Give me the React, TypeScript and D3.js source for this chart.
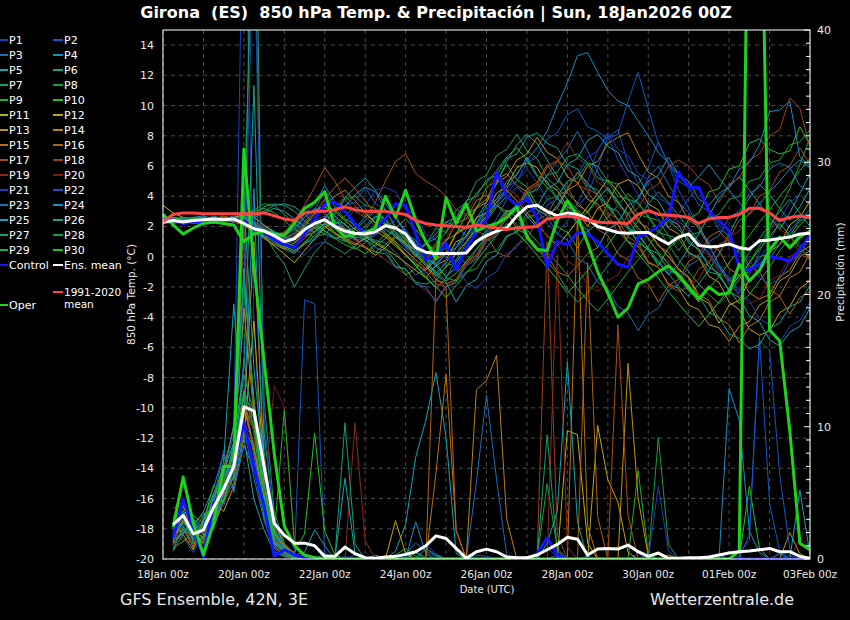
import React from "react";
import * as d3 from "d3";

// time axis: 6-hourly steps from 18Jan2026 00z to 03Feb2026 00z
const t0 = new Date(Date.UTC(2026, 0, 18, 0));
const tEnd = new Date(Date.UTC(2026, 1, 3, 0));
const STEP = 6 * 3600 * 1000;

const legendRows = [
  ["P1", "P2"], ["P3", "P4"], ["P5", "P6"], ["P7", "P8"], ["P9", "P10"],
  ["P11", "P12"], ["P13", "P14"], ["P15", "P16"], ["P17", "P18"], ["P19", "P20"],
  ["P21", "P22"], ["P23", "P24"], ["P25", "P26"], ["P27", "P28"], ["P29", "P30"],
];

// member colours (cycle of 20)
const palette = [
  "#1f3fbf", "#1456c4", "#1a6fb8", "#168fc4", "#14a3b3", "#13a38c", "#12a068", "#14a046", "#1db326", "#22c41c",
  "#b5b30c", "#bfa60b", "#bc940b", "#b9840c", "#b8720d", "#b3620f", "#a84f12", "#9e4115", "#8e2a1b", "#7e1a18",
];

// 850 hPa temperature (°C), 65 values 00z 18Jan .. 00z 03Feb
const climTemp = [2.3,2.8,2.9,2.9,2.85,2.85,2.85,2.85,2.85,2.85,2.9,2.7,2.5, 2.4,2.9,3.0,3.0,3.1,3.3,3.1,3.0,3.0,3.0,2.9,2.8,2.4, 2.2,2.1,2.05,2.0,1.95,2.1,2.0,1.9,1.8,1.9,1.95,2.0,2.5, 2.6,2.7,2.6,2.4,2.3,2.25,2.25,2.2,2.8,3.05,2.8,2.75,2.7, 2.6,2.2,2.5,2.6,2.6,2.8,3.2,3.2,2.9,2.4,2.6,2.7,2.6];
const meanTemp = [2.3,2.4,2.3,2.4,2.45,2.5,2.45,2.5,2.2,1.85,1.7,1.4,1.0, 1.2,1.8,2.2,2.45,2.0,1.7,1.55,1.5,1.65,2.05,1.9,1.5,0.6, 0.3,0.22,0.22,0.22,0.25,1.0,1.4,1.7,1.9,2.7,3.3,3.4,3.0, 2.7,2.9,2.8,2.5,2.0,1.8,1.6,1.55,1.6,1.6,1.2,0.84,1.3, 1.5,0.75,0.65,0.7,0.84,0.6,0.5,1.05,1.1,1.2,1.3,1.5,1.55];
const controlTemp = [2.6,2.4,2.2,2.3,2.3,2.3,2.4,2.5,2.4,1.9,1.6,1.1,0.8, 0.6,1.5,2.5,3.5,3.6,3.0,2.2,1.5,1.9,2.5,3.5,3.4,1.5, -0.2,0.2,0.9,-0.9,0.6,1.6,2.5,5.6,4.0,3.4,3.8,2.6,-0.7, 1.0,0.8,1.6,1.5,1.0,0.2,-0.5,-0.7,1.3,1.6,2.0,2.6,5.6, 4.6,4.6,3.0,2.4,1.7,-0.7,-0.9,-0.5,0.0,-0.1,-0.3,0.5,1.4];
const operTemp = [2.8,2.1,1.5,1.9,2.2,2.3,2.2,2.1,1.0,1.5,1.7,1.5,1.4, 2.2,3.2,3.6,4.3,2.0,1.3,1.5,1.6,1.9,4.0,2.6,4.4,2.4, 1.0,-0.15,3.9,2.2,3.5,1.7,2.0,2.2,2.6,3.3,1.3,0.5,0.4, 2.4,3.7,2.7,0.9,-1.0,-2.4,-4.0,-3.4,-1.8,-1.5,-1.0,-0.6,-1.2, -2.0,-2.8,-2.0,-2.5,-2.4,-0.5,-1.6,-0.9,0.45,1.3,0.6,1.3,1.7];

// ensemble members P1..P30
const memberTemp: number[][] = [
  [2.5,2.3,2.2,2.4,2.3,2.5,2.6,2.4,2.0,1.7,1.5,1.2,0.8, 1.0,1.9,2.4,2.7,2.2,1.6,1.2,1.0,1.4,2.0,2.4,1.8,0.9, 0.2,-0.4,0.3,0.8,1.2,2.1,2.9,3.6,4.2,5.0,5.8,4.9,3.8, 3.2,2.6,3.5,4.9,7.1,8.0,6.4,5.2,4.1,3.3,2.5,1.9,2.8, 3.9,4.6,3.2,2.1,1.3,0.4,-0.8,-0.2,0.9,2.4,3.6,4.1,3.4],
  [2.3,2.5,2.4,2.3,2.6,2.4,2.3,2.6,2.4,2.1,1.9,1.6,1.2, 1.3,1.7,2.0,2.2,1.8,1.4,1.1,1.2,1.5,1.8,1.3,0.6,-0.4, -1.1,-0.6,0.2,-0.3,0.4,1.1,1.6,2.5,3.8,4.6,4.0,3.1,2.2, 1.5,2.4,3.3,4.1,5.8,7.9,8.4,6.2,4.8,5.9,7.6,6.1,4.4, 3.2,2.0,0.9,-0.6,-1.8,-2.4,-1.2,0.3,1.8,2.6,1.9,0.8,0.3],
  [2.4,2.6,2.5,2.3,2.2,2.4,2.5,2.3,2.1,1.6,1.3,1.1,0.9, 1.4,2.3,3.1,3.4,2.6,1.9,1.5,1.3,1.1,0.9,0.3,-0.5,-1.2, -0.8,0.1,0.6,0.2,-0.5,0.4,1.5,2.2,2.9,3.4,3.9,4.6,5.4, 6.3,7.1,8.3,7.0,5.6,4.4,3.5,2.8,3.9,5.2,6.0,4.8,3.6, 2.9,1.8,0.7,-0.5,-1.5,-2.2,-1.6,-0.9,-0.1,0.8,1.7,2.5,3.1],
  [2.6,2.4,2.6,2.5,2.4,2.7,2.5,2.4,2.3,2.0,1.8,1.5,1.4, 1.8,2.6,3.2,2.9,2.1,1.7,1.9,2.6,3.1,2.4,1.6,0.8,0.4, 0.9,1.5,2.3,2.0,1.4,2.2,3.0,3.8,4.5,5.5,6.4,7.2,8.3, 10.0,11.5,13.3,13.5,12.2,11.0,10.3,10.0,9.0,8.0,6.9,6.2,5.4, 4.6,5.3,6.1,5.2,4.4,3.6,2.8,3.5,4.3,5.0,5.8,6.4,5.9],
  [2.2,2.4,2.5,2.6,2.4,2.3,2.5,2.7,2.6,2.3,2.0,1.7,1.3, 1.1,1.6,2.3,2.5,2.1,1.5,1.2,1.8,2.6,3.1,2.0,1.2,0.5, 0.0,-0.6,-1.3,-0.7,0.5,1.6,2.4,3.3,4.0,3.5,2.7,1.9,2.6, 3.4,4.5,5.6,4.9,4.1,3.3,2.5,1.8,1.1,0.4,-0.4,-1.2,-0.5, 0.6,1.5,2.7,3.9,4.6,5.3,4.4,3.5,2.6,1.8,2.9,4.2,5.5],
  [2.7,2.5,2.3,2.4,2.5,2.6,2.4,2.3,2.5,2.8,3.3,3.5,3.4, 3.0,2.4,1.9,1.5,1.2,1.4,1.8,2.4,3.0,2.5,1.7,0.9,0.2, -0.5,-1.1,-0.4,0.6,1.4,2.5,3.6,4.8,6.3,7.4,8.1,7.5,6.4, 5.3,4.2,3.6,2.9,3.8,4.6,3.7,2.5,1.4,0.6,-0.3,-1.1,-2.0, -2.6,-1.8,-0.9,0.2,1.5,2.8,3.9,4.8,4.1,3.2,2.4,3.3,4.5],
  [2.4,2.3,2.2,2.3,2.4,2.2,2.3,2.4,2.6,2.2,1.6,0.4,-0.5, -2.0,-0.8,0.3,1.0,0.6,0.2,0.7,1.3,2.0,1.5,0.8,0.2,-0.6, -1.3,-2.1,-1.4,-0.2,0.9,1.8,2.6,3.4,2.8,2.1,1.4,0.6,-0.3, -1.1,-2.2,-3.0,-2.4,-1.5,-0.6,0.4,1.3,2.4,3.5,4.3,3.6,2.7, 1.9,1.0,0.2,-0.7,-1.6,-0.8,0.3,1.2,2.1,3.0,3.8,2.9,2.0],
  [2.5,2.6,2.4,2.2,2.3,2.5,2.4,2.5,2.7,3.1,3.5,3.4,2.8, 2.2,1.6,1.3,1.5,2.1,2.7,3.3,2.9,2.3,1.8,1.4,0.9,0.4, 0.8,1.9,1.6,3.1,3.6,5.0,5.4,6.7,7.1,8.1,7.0,6.5,5.2, 4.6,3.8,3.1,2.5,1.9,2.6,3.4,4.2,3.5,2.7,1.8,0.8,-0.2, -1.0,-1.8,-2.5,-3.1,-2.4,-1.5,-0.4,0.7,1.9,3.2,4.5,6.1,7.9],
  [2.3,2.2,2.4,2.5,2.3,2.4,2.6,2.5,2.3,1.8,1.4,0.9,0.6, 0.9,1.5,2.0,1.7,1.2,0.8,0.5,0.9,1.6,2.2,1.9,1.1,0.3, -0.4,-1.0,-1.6,-1.1,-0.3,0.5,1.3,2.2,3.1,2.6,1.8,1.0,0.3, -0.4,-1.2,-2.1,-2.9,-3.6,-2.8,-1.9,-1.0,-0.2,0.7,1.6,2.4,1.8, 1.1,0.4,-0.4,-1.3,-2.2,-3.1,-2.5,-1.6,-0.7,0.4,1.2,2.1,2.8],
  [2.6,2.4,2.3,2.5,2.6,2.4,2.5,2.3,2.2,2.0,1.7,1.3,1.0, 1.2,2.0,2.8,3.3,2.7,2.1,1.6,1.1,0.7,1.2,1.9,2.5,1.8, 1.0,0.3,1.1,1.5,2.8,3.2,4.6,5.0,6.1,5.1,4.6,3.4,3.0, 2.0,1.6,0.6,1.7,2.2,3.5,2.4,2.0,0.9,0.5,-0.6,0.6,1.1, 2.5,2.9,4.3,4.5,5.8,6.0,7.5,7.8,7.1,6.8,7.0,8.6,7.4],
  [3.4,2.9,2.6,2.4,2.3,2.4,2.5,2.6,2.3,1.9,1.3,0.7,0.2, -0.4,0.4,1.2,1.9,2.4,1.8,1.2,0.6,0.1,0.6,1.3,0.8,0.1, -0.6,-1.3,-0.7,0.2,1.0,1.9,2.7,3.6,4.4,3.7,2.9,2.1,1.4, 0.7,1.5,2.4,3.3,4.2,5.1,4.3,3.4,2.5,1.6,0.8,0.0,-0.8, -1.4,-2.7,-3.1,-4.4,-3.2,-2.9,-1.5,-1.0,0.3,0.8,2.1,2.6,3.7],
  [2.2,2.3,2.5,2.4,2.2,2.3,2.4,2.6,2.8,2.6,2.1,1.6,1.2, 1.5,2.2,2.9,3.5,3.0,2.4,1.8,1.3,0.9,0.5,0.1,-0.4,-0.9, -1.4,-0.6,-0.2,1.0,1.3,2.6,2.9,4.2,4.7,5.9,6.2,5.9,4.8, 4.4,3.3,3.0,2.0,3.2,3.6,4.8,5.1,4.7,3.5,3.1,1.9,1.5, 0.3,-0.1,-1.3,-1.7,-3.0,-3.5,-4.8,-5.2,-4.9,-3.7,-3.3,-2.1,-1.6],
  [2.5,2.4,2.2,2.3,2.5,2.6,2.4,2.5,2.4,2.2,1.8,1.4,0.9, 1.1,1.8,2.4,2.0,1.5,1.1,0.8,1.2,1.7,1.3,0.7,0.1,-0.5, -0.9,-0.2,0.2,1.5,1.9,3.2,3.6,4.9,5.3,6.4,6.8,7.9,6.9, 6.5,5.3,4.9,3.8,3.5,2.4,2.1,1.0,0.7,-0.4,-0.7,-1.8,-2.1, -3.2,-3.5,-4.5,-4.7,-5.6,-4.6,-4.3,-3.2,-2.8,-1.6,-1.2,0.0,0.4],
  [2.3,2.5,2.6,2.4,2.3,2.2,2.4,2.3,2.1,1.6,1.2,0.8,0.5, 0.9,1.6,2.5,3.4,4.0,4.4,3.7,2.9,2.2,1.6,1.0,0.4,-0.2, -0.8,-0.1,0.3,1.6,2.0,3.3,3.8,5.1,5.5,4.7,4.3,3.1,2.8, 3.2,4.4,4.8,6.0,6.3,7.5,7.9,8.2,6.8,5.6,5.2,4.0,3.6, 2.4,2.0,0.8,0.4,-0.8,-1.2,-2.4,-2.8,-2.5,-1.3,-0.9,0.3,0.7],
  [2.4,2.3,2.4,2.6,2.5,2.3,2.4,2.6,2.3,1.9,1.5,1.0,0.6, 0.3,0.8,1.4,2.0,1.6,1.2,0.9,0.6,0.3,0.8,1.4,0.9,0.4, -0.2,0.7,1.0,2.2,2.5,3.7,4.1,3.4,3.0,1.8,1.5,0.4,0.1, -1.0,-1.3,-0.6,0.2,0.6,1.8,2.2,3.4,2.3,1.9,0.7,0.3,-0.9, -1.3,-2.5,-2.9,-4.1,-4.5,-5.7,-4.6,-4.2,-3.0,-2.6,-1.4,-1.0,0.2],
  [2.6,2.5,2.3,2.2,2.4,2.5,2.7,2.5,2.3,2.0,1.6,1.2,0.9, 1.3,2.1,2.9,3.8,4.6,5.2,4.5,3.7,2.9,2.2,1.5,0.8,0.1, -0.6,-1.5,-1.8,-1.5,-0.3,0.1,1.3,1.7,2.9,3.3,4.5,4.9,6.1, 5.0,4.6,3.4,3.0,1.8,1.4,0.2,-0.2,-1.4,-1.8,-3.0,-1.9,-1.5, -0.3,0.1,1.3,1.7,1.0,0.6,-0.6,-1.0,-2.2,-2.6,-3.8,-2.7,-2.3],
  [2.5,2.3,2.2,2.3,2.5,2.4,2.3,2.5,2.4,2.1,1.8,1.5,1.6, 2.4,3.4,4.6,5.9,5.0,3.8,3.0,2.6,3.6,5.0,6.3,6.8,5.5, 5.0,4.6,4.0,3.1,2.8,1.7,1.4,0.3,0.0,0.8,1.2,2.4,2.8, 4.0,4.4,5.6,4.5,4.1,2.9,2.5,1.3,0.9,-0.3,-0.7,-1.9,-2.3, -2.0,-0.8,-0.4,0.8,1.2,2.4,2.8,4.0,4.4,5.6,6.0,7.2,6.1],
  [2.3,2.4,2.6,2.5,2.3,2.4,2.5,2.4,2.2,1.8,1.5,1.2,0.9, 0.6,1.2,1.9,2.6,3.3,4.0,3.4,2.7,2.0,1.4,0.8,0.2,-0.4, -1.0,-1.8,-2.0,-1.7,-0.5,-0.1,1.1,1.5,2.7,3.1,4.3,4.7,5.9, 6.3,6.0,4.8,4.4,3.2,2.8,1.6,2.8,3.2,4.4,4.8,6.0,6.4, 6.0,5.2,4.8,3.6,4.8,5.2,6.4,6.8,8.0,8.4,10.5,9.8,7.2],
  [2.6,2.4,2.3,2.5,2.6,2.5,2.3,2.4,2.5,2.3,1.9,1.4,1.0, 0.7,1.3,2.0,2.6,2.1,1.6,1.1,0.7,0.3,-0.2,-0.7,-1.2,-1.7, -2.2,-2.9,-1.9,-1.6,-0.4,0.0,1.2,1.6,2.8,3.2,4.4,4.8,6.0, 6.4,7.6,6.5,6.1,4.9,4.5,3.3,2.9,1.7,1.3,0.1,-0.3,-1.5, -1.9,-1.5,-0.3,0.1,1.3,1.7,2.9,3.3,3.0,1.8,1.4,0.2,-0.2],
  [2.4,2.5,2.4,2.3,2.4,2.6,2.5,2.3,2.2,1.9,1.6,1.3,1.1, 1.5,2.2,2.8,2.3,1.8,1.3,0.9,1.4,2.0,2.6,2.0,1.3,0.6, -0.1,0.8,1.2,2.4,2.8,4.0,4.4,5.6,4.5,4.1,2.9,2.5,1.3, 0.9,-0.3,-0.7,-1.9,-2.3,-1.6,-1.2,0.0,0.4,1.6,2.0,3.2,2.1, 1.7,0.5,0.1,-1.1,-1.5,-2.7,-3.1,-2.8,-1.6,-1.2,0.0,0.4,1.6],
  [2.5,2.6,2.4,2.3,2.2,2.4,2.6,2.5,2.3,2.0,1.7,1.3,0.9, 0.5,0.1,0.8,1.0,2.0,2.2,3.2,3.4,4.4,4.6,4.3,3.1,2.7, 1.5,1.1,-0.1,-0.5,-1.7,-2.1,-1.4,-1.0,0.2,0.6,1.8,2.2,3.4, 3.8,5.0,5.4,6.6,7.0,8.2,7.1,6.7,5.5,5.1,3.9,3.5,2.3, 1.9,0.7,0.3,-0.9,-1.3,-2.5,-2.9,-4.1,-4.5,-5.7,-4.6,-4.2,-3.0],
  [2.3,2.4,2.5,2.6,2.5,2.3,2.4,2.5,2.4,2.1,1.7,1.2,0.7, 0.3,1.0,1.2,2.2,2.4,3.4,3.6,4.6,3.5,3.1,1.9,1.5,0.3, -0.1,-1.3,-0.2,0.2,1.4,1.8,3.0,3.4,4.6,5.0,6.2,6.6,7.8, 8.2,9.4,9.8,8.6,8.3,7.8,8.1,10.3,12.2,9.8,7.5,6.2,5.0, 4.6,3.4,3.0,1.8,1.4,0.2,-0.2,-1.4,-1.8,-1.5,-0.3,0.1,1.3],
  [2.4,2.2,2.3,2.5,2.4,2.5,2.3,2.4,2.5,2.2,1.8,1.5,1.2, 1.6,2.6,3.1,4.4,3.3,3.0,1.9,1.6,0.6,0.4,-0.6,-0.8,-1.8, -2.0,-3.0,-2.0,-1.7,-0.6,-0.2,1.0,1.4,2.6,3.0,4.2,3.1,2.7, 1.5,1.1,-0.1,-0.5,-1.7,-2.1,-3.3,-3.7,-4.9,-3.8,-3.4,-2.2,-1.8, -0.6,-0.2,1.0,1.4,2.6,3.0,4.2,4.6,5.8,6.2,5.9,4.7,4.3],
  [2.5,2.6,2.5,2.4,2.3,2.5,2.6,2.4,2.3,2.0,1.8,1.6,1.5, 1.9,2.8,3.5,4.7,3.6,3.3,4.1,4.6,4.3,3.1,2.7,1.5,1.1, -0.1,-0.5,0.2,0.6,1.8,2.2,3.4,3.8,5.0,5.4,6.6,5.4,5.0, 3.8,3.4,2.2,1.8,0.6,1.8,2.2,3.4,3.8,5.0,5.4,6.6,5.4, 5.0,3.8,3.4,4.2,4.6,5.8,6.2,7.4,9.6,9.7,10.3,6.6,6.0],
  [2.3,2.5,2.4,2.6,2.7,2.5,2.4,2.3,2.4,2.6,2.9,3.2,3.0, 2.5,2.0,1.6,2.2,3.0,3.9,4.6,5.2,4.4,3.5,2.6,1.7,0.8, -0.1,-1.2,-1.7,-3.0,-1.9,-1.5,-0.3,0.1,1.3,1.7,2.9,3.3,4.5, 4.9,6.1,6.5,7.7,8.1,7.3,6.9,5.7,5.3,4.1,3.7,2.5,2.1, 0.9,0.5,-0.7,-1.1,-2.3,-2.7,-3.9,-4.3,-5.5,-5.9,-5.0,-4.6,-3.4],
  [2.6,2.5,2.3,2.4,2.3,2.4,2.5,2.6,2.6,2.7,3.0,3.4,3.5, 3.3,2.8,2.2,1.7,1.3,1.0,1.4,2.0,2.7,2.1,1.4,0.7,0.0, 0.9,1.2,2.3,2.6,3.7,4.0,5.1,5.4,6.5,6.8,7.9,8.2,7.5, 7.2,6.1,5.8,4.7,4.4,3.3,3.0,1.9,1.6,0.5,0.2,-0.9,-1.2, -2.3,-2.6,-3.7,-4.0,-5.1,-5.4,-6.1,-5.8,-4.7,-4.4,-3.3,-3.0,-1.9],
  [2.4,2.3,2.5,2.4,2.2,2.3,2.4,2.5,2.4,2.1,1.6,1.0,0.5, 0.2,0.9,1.1,2.1,2.3,2.2,1.3,1.2,0.3,0.2,-0.7,-0.8,-1.7, -1.8,-1.6,-0.6,-0.4,0.6,0.8,1.8,2.0,3.0,3.2,4.2,4.4,5.4, 5.6,6.6,6.8,6.2,6.0,5.0,4.8,3.8,3.6,2.6,2.4,1.4,1.2, 0.2,0.0,-1.0,-1.2,-2.2,-1.2,-1.0,0.0,0.2,1.2,1.4,2.4,2.6],
  [2.5,2.4,2.6,2.5,2.4,2.6,2.5,2.4,2.3,1.9,1.5,1.3,1.0, 0.7,1.4,1.6,2.6,2.8,3.8,4.0,3.4,3.2,2.2,2.0,1.0,0.8, -0.2,-0.4,-1.4,-1.6,-1.0,-0.8,0.2,0.4,1.4,1.6,2.6,2.8,3.8, 4.0,5.0,5.2,6.2,5.2,5.0,4.0,3.8,2.8,2.6,1.6,1.4,0.4, 1.4,1.6,2.6,2.8,3.8,4.0,5.0,5.2,6.2,6.4,7.4,7.6,8.4],
  [2.2,2.4,2.3,2.5,2.6,2.4,2.3,2.4,2.7,3.0,3.2,2.9,2.4, 1.8,1.5,1.9,2.6,3.2,2.5,2.1,1.4,1.0,0.6,-0.3,-1.2,-0.8, 0.1,0.9,1.6,2.5,3.3,4.2,4.9,5.7,6.6,7.2,6.4,5.3,4.6, 3.9,3.1,2.2,3.0,3.9,4.5,3.6,2.8,1.9,1.2,0.3,-0.5,-1.4, -2.2,-3.0,-2.1,-1.3,-0.4,0.5,1.4,2.3,3.1,4.0,4.8,5.7,6.5],
  [2.4,2.6,2.4,2.2,2.3,2.4,2.6,2.5,2.4,2.0,1.6,1.1,0.7, 0.4,0.9,1.7,2.2,1.6,1.1,0.6,0.2,0.8,1.5,0.9,0.1,-0.6, -1.4,-2.0,-2.7,-1.9,-1.1,-0.3,0.6,1.4,2.2,1.6,0.9,0.1,-0.7, -1.5,-2.4,-1.7,-0.9,0.0,0.8,1.7,1.0,0.2,-0.6,-1.4,-2.3,-3.1, -3.9,-4.6,-3.8,-3.0,-2.1,-1.3,-0.4,0.5,1.3,2.2,1.4,0.6,-0.2],
];

// 6-hourly precipitation (mm), 64 values 06z 18Jan .. 00z 03Feb
const meanPrecip = [2.6,3.3,1.9,2.2,3.9,5.3,7.0,11.5,11.2,7.0,2.7,1.8,1.2,1.2,1.0,0.2, 0.2,0.9,0.4,0.1,0.05,0.15,0.2,0.35,0.55,1.0,1.75,1.55,0.8,0.05,0.55,0.75, 0.55,0.15,0.1,0.1,0.3,0.7,1.1,1.65,1.5,0.3,0.75,0.8,0.75,1.05,0.55,0.2, 0.45,0.05,0.05,0.1,0.1,0.15,0.3,0.45,0.55,0.6,0.7,0.8,0.55,0.55,0.2,0.05];
const controlPrecip = [1.6,4.5,2.2,0.2,4.2,5.2,7.2,10.3,7.0,4.0,0.2,0.7,0.3,0.1,0,0, 0,0,0,0,0,0,0,0,0,0,0,0,0,0,0,0, 0,0,0,0,0.4,1.6,0.3,0,0,0,0,0,0,0,0,0, 0,0,0,0,0,0,0,0,0,0,0,0,0,0,0,0];
const operPrecip = [2.4,6.2,2.7,0.3,2.7,7.0,7.0,31,22,15,8,2.5,1.0,0.3,0.1,0, 0,0,0,0,0,0,0,0,0,0,0,0,0,0,0,0, 0,0,0,0,0,0,0,0,0,0,0,0,0,0,0,0, 0,0,0,0,0,0,0,0,0.6,60,60,17.3,16.5,9.7,1.2,0.7];

const memberPrecip: number[][] = [
  [1.2,3.5,0.8,2.1,4.6,6.2,9.5,55,18,3.2,0.6,0.2,0.4,0.1,0,0, 0,0.2,0,0,0,0.1,0.3,0,0.5,1.1,0.4,0,0,0.2,0,0, 0,0,0,0,0.3,0.8,0.2,0,0,0,0.1,0,0,0,0.4,0, 0,0,0,0,0,0,0.2,0.6,0.1,0,0,0,0,0.3,0,0],
  [2.4,1.6,0.5,1.8,3.2,4.5,7.8,12.5,8.2,4.0,1.1,0.5,0.1,19.6,19.3,0.1, 0,0,0.3,0,0,0,0,0.2,0.6,0.1,0,0,0,0,0.3,0.2, 0,0,0,0,0,0,0.3,0,0,0,0,0,0,0,0,0, 0,0,0,0,0,0,0,0,0.5,1.4,16.8,4.2,0.6,0,0,0],
  [3.8,4.4,1.2,1.5,2.6,5.1,6.3,15.2,9.4,5.2,2.1,0.8,0.3,0,0,0, 0,0,0,0,0,0,0,0.4,1.2,0.6,0.2,0,0,0,5.8,12.4, 6.0,0.3,0,0,0,0,0,0,0,0.2,0,0,0,0,0,0, 0,0,0,0,0,0,0,0,0,0,0,0,0,0,0,0],
  [1.5,2.8,2.4,3.6,5.4,7.9,5.2,8.6,6.7,3.3,1.4,0.6,0,0,0.2,0, 0,0,0,0,0.3,0,0,0,2.8,0.4,0,0,0,0,0,0, 0,0,0,0,0,0,0,0,0,0,0,0,0,0,0,0, 0,0,0,0,0,0,0.3,0,0,0,0,0,0.4,0,0,0],
  [0.6,1.9,3.3,2.7,4.1,7.4,19.3,9.2,4.5,2.2,0.5,0.2,0,0,0,0, 0,0,0,0,0,0,0.6,2.6,7.7,10.5,14.1,9.2,0.4,0,0,0, 0,0,0,0,0,0,0,0,0,0,0,0,0,0,0,0, 0,0,0,0,0,0,0,0,0,0,0,0,0,0,0,0],
  [2.2,3.1,1.4,2.6,3.8,6.6,8.8,14.5,35.8,9.5,3.1,1.0,0.2,0,0,0.4, 0.1,0,0,0,0,0.2,0,0,0,0.8,0.3,0,0,0,0,0, 0,0,0,0,0,0,0,0,0,0,0,0,0,0,0,0, 0,0,0,0,0,0,0,0,0,0,0,0,0,0,0,0],
  [1.6,2.5,0.9,1.7,4.8,5.9,8.4,18.6,62,8.1,2.4,0.9,0.3,0,0,0, 0,0,0,0,0,0,0.3,0.8,0.2,0,0,0,0,0,0,0, 0,0,0,0,0,0,0,0,0,0,0,0,0,0,0,0, 0,0,0,0,0,0,0,0,0,0,0,0,0,0,0,0],
  [3.1,3.9,2.6,1.4,3.3,4.7,7.1,26,50,12,3.6,1.2,0.4,0.1,0,0, 0,0,0,0,0,0,0,0,0,0,0,0,0,0,0,0, 0,0,0,0,0,5.7,0.8,0,0,0,0,0,0,0,0,0, 0,0,0,0,0,0,0,0,0,0,0,0,0,0,0,0],
  [0.9,1.3,2.1,2.8,5.6,4.2,6.4,9.8,7.2,4.6,1.6,0.5,0,0,0,0, 0,0,0,0,0,0,0,0,0,0,0,0,0,0,0,0, 0,0,0,0,0,0,0,0,0,0,0,0,0,0,6.7,0.4, 0,0,0,0,0,0,0,0,0,0,0,0,0,0,0,0],
  [2.0,2.2,1.1,2.4,3.7,5.8,7.9,21.0,12.1,5.4,2.0,0.9,0.5,1.9,9.5,2.1, 0.3,0,0,0,0,0,0,0,0.5,0,0,0,0,0,0,0, 0,0,0,0,0,0,0,0,0,0,0,0,0,0,0,0, 0,0,0,0,0,0,0,0,0,5.5,0.8,0,0,0,0,0],
  [1.3,2.9,1.8,1.2,2.4,4.4,6.8,11.4,8.6,3.9,1.2,0.4,0,0,0,0, 0,0,0,0,0,0,0,0,0,0,0,0,0,0,0,0, 0,0,0,0,0,0,0,9.7,9.4,1.2,0,0,0,0,0,0, 0,0,0,0,0,0,0,0,0,0,0,0,0,0,0,0],
  [2.7,1.8,0.7,2.9,4.3,3.6,5.5,9.1,18.0,6.2,2.8,1.0,0.2,0,0,0, 0,0,0,0,0,0,2.9,0.4,0,0,0,0,0,0,0,0, 0,0,0,0,0,0,0,0,0,0,10.1,6.0,4.3,0.5,0,0, 0,0,0,0,0,0,0,0,0,0,0,0,0,0,0,0],
  [1.9,3.4,2.2,1.6,3.1,5.2,6.1,10.8,24.0,7.3,2.5,0.7,0.1,0,0,0, 0,0,0,0,0,0,0,0,0,0,0,0,0,0,0,0, 0,0,0,0,0,0,0,0,0,0,0,0,0,14.8,4.6,0.2, 0,0.3,0,0,0,0,0,0,0,0,0,0,0,2.0,0.4,0],
  [2.5,4.1,1.6,2.2,3.5,4.8,8.2,19.0,10.9,4.8,1.7,0.6,0,0,0,0, 0,0,0,0,0,0,0,0,0,0,0,0,0,0,12.8,13.5, 15.4,3.0,0,0,0,0,0,0,0,0,0,0,0,0,0,0, 0,0,0,0,0,0,0,0,0,0,0,0,0,0,0,0],
  [1.1,2.3,0.9,3.1,4.9,6.9,9.9,12.1,7.8,3.5,0.9,0.3,0,0,0,0, 0,0,0,0,0,0,0,0,0,0,6.5,14.0,2.2,0,0,0, 0,0,0,0,0,0,0,0,26.0,2.5,0,0,0,0,0,0, 0,0,0,0,0,0,0,0,0,0,0,0,0,0,0,0],
  [2.8,2.0,1.9,1.3,2.7,5.5,7.4,11.7,9.7,5.9,1.9,0.8,0.3,0,0,0, 0,0,0,0,0,0,0,0,0,0,21.2,20.5,2.1,0,0,0, 0,0,0,0,0,0,0,0,0,22.4,3.2,0,0,0,0,0, 0,0,0,0,0,0,0,0,0,0,0,0,0,0,0,0],
  [1.7,3.0,2.8,1.9,3.0,4.3,5.8,9.3,11.8,6.6,2.3,1.1,0.4,0,0,0, 0,0,0,0,0,0,0,0,0,0,0,0,0,0,0,0, 0,0,0,0,0,0,0,0,0,0,0,0,17.7,3.3,0,0, 0,0,0,0,0,0,0,0,0,0,0,0,0,0,0,0],
  [2.1,1.4,1.3,2.3,4.0,6.0,7.6,25.0,10.2,4.2,1.5,0.4,0,0,0,0, 0,0,0,0,0,0,0,0,0,0,0,0,0,0,0,0, 0,0,0,0,0,24.0,1.8,0,0,0,0,0,0,0,0,0, 0,0,0,0,0,0,0,0,0,0,0,0,0,0,0,0],
  [1.4,2.6,1.0,2.0,3.4,5.0,6.6,10.4,8.8,5.1,1.8,0.5,0.1,0,0,0, 0,0,10.3,1.4,0,0,0,0,0,0,0,0,0,0,0,0, 0,0,0,0,0,0,23.0,0.9,0,0,0,0,0,0,0,0, 0,0,0,0,0,0,0,0,0,0,0,0,0,0,0,0],
  [0.8,1.7,2.3,2.5,3.9,4.6,7.0,12.9,9.6,4.4,13.1,11.5,1.4,0,0,0, 0,0,0,0,0,0,0,0,0,0,0,0,0,0,0,0, 0,0,0,0,0,0,0,0,0,0,0,0,0,0,0,0, 0,0,0,0,0,0,0,0,0,0,0,0,0,0,1.6,0.9],
  [2.3,3.2,1.7,1.1,2.9,5.3,7.7,20.4,48,10.7,2.6,0.8,0.2,0,0,0, 0,0,0,0,0,0,0,0,0,0,0,0,0,0,0,0, 0,0,0,0,0,0,0,0,0,0,0,0,0,0,0,0, 5.5,0.6,0,0,0,0,0,0,0,0,0,0,0,0,0,0],
  [1.0,2.1,2.5,1.9,3.6,4.0,6.9,8.4,7.5,3.8,1.3,0.4,0,0,0,0, 0,0,0,0,0,0,0,0,0,0,0,0,0,0,0,0, 0,0,0,0,0,0,0,0,0,0,0,0,0,0,0,0, 0,0,0,0,0,0,0,0,0,1.9,16.5,15.8,6.4,0.8,0,0],
  [3.3,2.4,1.5,2.7,4.4,8.2,5.0,9.9,6.1,2.9,0.8,0.2,0,0,0,0, 0,0,0,0,0,0,0,0,0,0,0,0,0,0,0,0, 0,0,0,0,0,0,0,0,0,0,0,0,0,0,0,0, 0,0,0,0,0,0,0,0,0,0,0,0,0,0,0,0],
  [1.8,2.7,2.0,3.3,3.9,5.7,6.0,11.0,28.0,4.7,1.6,0.6,0.2,0,0,0, 0,0,0,0,0,0,0,0,0,0,0,0,0,0,0,0, 0,0,0,0,0,0,0,0,0,0,0,0,0,0,0,0, 0,0,0,0,0,0,0,12.9,10.5,2.1,0.5,0,0,0,0,0],
  [2.6,3.6,2.9,1.8,2.3,4.9,8.9,22.0,11.3,5.6,1.9,0.7,0.3,0.5,2.2,1.0, 0,6.1,0.4,0,0,0,0,0,0,0,0,0,0,0,0,0, 0,0,0,0,0,1.2,3.6,14.9,2.8,0,0,0,0,0,0,0, 0,0,0,0,0,0,0,0,0,0,0,0,0,0,5.2,0.3],
  [1.5,1.9,3.0,2.4,4.7,6.3,10.2,27.0,14.4,6.8,2.2,0.9,0.3,0,0,0, 0,0,0,0,0,0,0,0,0,0,0,0,0,0,0,0, 0,0,0,0,0,0,0,0,0,0,0,0,0,0,0,0, 0,0,0,0,0,0,0,0,0,0,0,0,0,0,0,0],
  [0.7,2.4,1.6,2.9,5.0,6.1,8.1,13.9,11.0,4.9,1.3,0.6,0.2,0,0,0, 0,10.3,1.1,0,0,0,0,0,0,0,0,0,0,0,0,0, 0,0,0,0,0,9.4,0.6,0,0,0,0,0,0,0,0,0, 0,0,0,0,0,0,0,0,0,0,0,0,0,0,0,0],
  [2.9,3.7,1.2,1.7,3.0,5.6,7.3,12.4,9.9,3.1,1.0,0.3,0,0,0,0, 0,0,0,0,0,0,0,0,0,0,0,0,0,0,0,0, 0,0,0,0,0,0,0,0,0,0,0,0,0,0,0,0, 9.2,1.1,0,0,0,0,0,0,0,0,0,0,0,0,0,0],
  [1.2,2.0,2.7,3.4,3.8,5.1,6.7,10.1,8.3,5.0,1.7,11.3,1.2,0,0,0, 0,0,0,0,0,0,0,0,0,0,0,0,0,0,0,0, 0,0,0,0,0,0,0,0,0,0,0,0,0,0,0,0, 0,0,0,0,0,0,0,0,0,0,0,0,0,0,0,0],
  [2.0,2.9,1.8,2.3,4.5,4.4,7.5,12.7,10.6,4.3,1.4,0.5,0.1,0,0,0, 0,0,0,0,0,0,0,0,0,0,0,0,0,0,0,0, 0,0,0,0,0,0,0,0,0,0,0,0,0,0,0,0, 0,0,0,0,0,0,0,0,0,0,0,0,0,0,0,0],
];

const tempTicks = d3.range(-20, 15, 2);
const precipTicks = [0, 10, 20, 30, 40];

const left = 163, right = 810, top = 30, bottom = 559;

export default function App() {
  const x = d3.scaleUtc().domain([t0, tEnd]).range([left, right]);
  const yT = d3.scaleLinear().domain([-20, 15]).range([bottom, top]);
  const yP = d3.scaleLinear().domain([0, 40]).range([bottom, top]);

  const tLine = d3.line<number>()
    .x((_, i) => x(new Date(t0.getTime() + i * STEP)))
    .y((d) => yT(d));
  const pLine = d3.line<number>()
    .x((_, i) => x(new Date(t0.getTime() + (i + 1) * STEP)))
    .y((d) => yP(d));

  const days = d3.utcDay.range(t0, new Date(tEnd.getTime() + 1));
  const labelDays = days.filter((_, i) => i % 2 === 0);
  const fmt = d3.utcFormat("%d%b 00z");
  const txt = "#e8e8e8";

  return (
    <svg width={850} height={620} style={{ position: "fixed", left: 0, top: 0 }} fontFamily="DejaVu Sans">
      <rect width={850} height={620} fill="#000" />
      <defs>
        <clipPath id="plotArea">
          <rect x={left} y={top} width={right - left} height={bottom - top} />
        </clipPath>
      </defs>

      {/* grid */}
      <g stroke="#4a4a4a" strokeDasharray="4,4" strokeWidth={1}>
        {days.map((d, i) => (
          <line key={"v" + i} x1={x(d)} x2={x(d)} y1={top} y2={bottom} />
        ))}
        {tempTicks.map((v) => (
          <line key={"h" + v} x1={left} x2={right} y1={yT(v)} y2={yT(v)} />
        ))}
      </g>

      <g clipPath="url(#plotArea)" fill="none" strokeLinejoin="round">
        {memberTemp.map((s, i) => (
          <g key={"m" + i} stroke={palette[i % 20]} strokeWidth={1}>
            <path d={tLine(s) ?? ""} />
            <path d={pLine(memberPrecip[i]) ?? ""} />
          </g>
        ))}
        <g stroke="#1414ff" strokeWidth={3}>
          <path d={tLine(controlTemp) ?? ""} />
          <path d={pLine(controlPrecip) ?? ""} />
        </g>
        <g stroke="#1ed21e" strokeWidth={3}>
          <path d={tLine(operTemp) ?? ""} />
          <path d={pLine(operPrecip) ?? ""} />
        </g>
        <g stroke="#ffffff" strokeWidth={3}>
          <path d={tLine(meanTemp) ?? ""} />
          <path d={pLine(meanPrecip) ?? ""} />
        </g>
        <path d={tLine(climTemp) ?? ""} stroke="#ff4444" strokeWidth={3} />
      </g>

      {/* frame */}
      <rect x={left} y={top} width={right - left} height={bottom - top} fill="none" stroke="#ffffff" strokeWidth={1} />

      {/* left axis */}
      <g fill={txt} fontSize={11} textAnchor="end">
        {tempTicks.map((v) => (
          <text key={"lt" + v} x={154} y={yT(v) + 4}>{v}</text>
        ))}
      </g>
      <text transform={`translate(135,${(top + bottom) / 2}) rotate(-90)`} fill={txt} fontSize={10.5} textAnchor="middle">
        850 hPa Temp. (°C)
      </text>

      {/* right axis */}
      <g stroke="#ffffff" strokeWidth={1}>
        {d3.range(0, 41, 1).map((v) => (
          <line key={"rt" + v} x1={right - (v % 10 === 0 ? 6 : 4)} x2={right} y1={yP(v)} y2={yP(v)} />
        ))}
      </g>
      <g fill={txt} fontSize={11} textAnchor="start">
        {precipTicks.map((v) => (
          <text key={"rl" + v} x={817} y={yP(v) + 4}>{v}</text>
        ))}
      </g>
      <text transform={`translate(844,272) rotate(-90)`} fill={txt} fontSize={10.5} textAnchor="middle">
        Precipitación (mm)
      </text>

      {/* bottom axis */}
      <g fill={txt} fontSize={10.5} textAnchor="middle">
        {labelDays.map((d, i) => (
          <text key={"bl" + i} x={x(d)} y={578}>{fmt(d)}</text>
        ))}
      </g>
      <text x={487} y={593} fill={txt} fontSize={10} textAnchor="middle">Date (UTC)</text>

      {/* title & footer */}
      <text x={436} y={18} fill="#ffffff" fontSize={16} fontWeight="bold" textAnchor="middle" style={{ whiteSpace: "pre" }}>
        {"Girona  (ES)  850 hPa Temp. & Precipitación | Sun, 18Jan2026 00Z"}
      </text>
      <text x={120} y={605} fill={txt} fontSize={16}>GFS Ensemble, 42N, 3E</text>
      <text x={650} y={605} fill={txt} fontSize={16}>Wetterzentrale.de</text>

      {/* legend */}
      <g fontSize={11} fill="#ffffff">
        {legendRows.map((row, r) => (
          <g key={"lg" + r}>
            <line x1={0} x2={8} y1={40 + r * 15} y2={40 + r * 15} stroke={palette[(r * 2) % 20]} strokeWidth={2} />
            <text x={9} y={44 + r * 15}>{row[0]}</text>
            <line x1={53} x2={63} y1={40 + r * 15} y2={40 + r * 15} stroke={palette[(r * 2 + 1) % 20]} strokeWidth={2} />
            <text x={64} y={44 + r * 15}>{row[1]}</text>
          </g>
        ))}
        <line x1={0} x2={8} y1={265} y2={265} stroke="#1414ff" strokeWidth={2} />
        <text x={9} y={269}>Control</text>
        <line x1={53} x2={63} y1={265} y2={265} stroke="#ffffff" strokeWidth={2} />
        <text x={64} y={269}>Ens. mean</text>
        <line x1={53} x2={63} y1={292} y2={292} stroke="#ff4444" strokeWidth={2} />
        <text x={64} y={296} fontSize={10.5}>1991-2020</text>
        <text x={64} y={308} fontSize={10.5}>mean</text>
        <line x1={0} x2={8} y1={305} y2={305} stroke="#1ed21e" strokeWidth={2} />
        <text x={9} y={309}>Oper</text>
      </g>
    </svg>
  );
}
